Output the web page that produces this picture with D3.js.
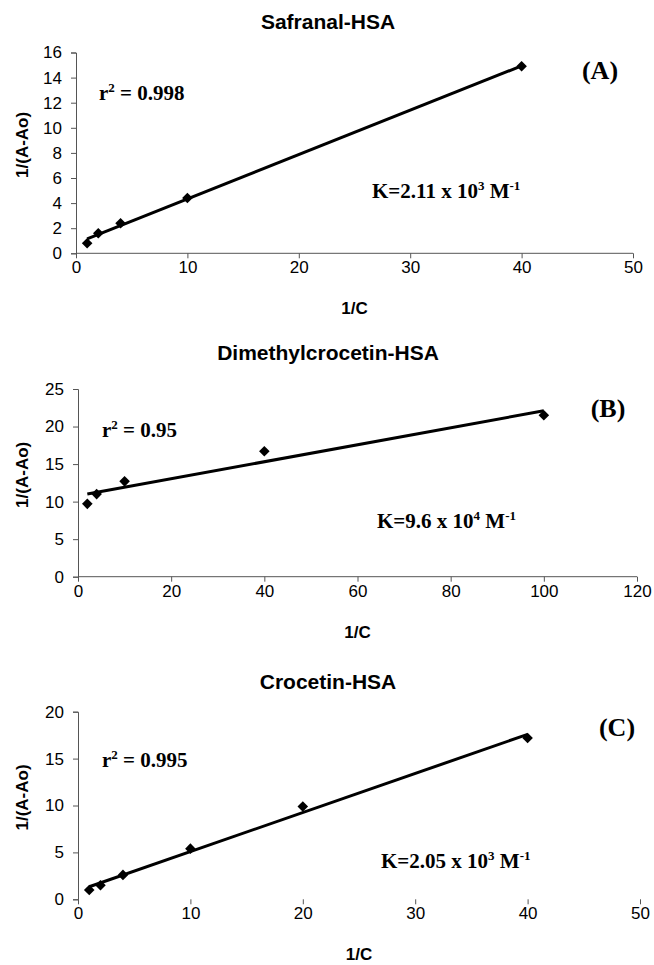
<!DOCTYPE html>
<html>
<head>
<meta charset="utf-8">
<script src="https://cdn.jsdelivr.net/npm/d3@7"></script>
<style>
  body { margin: 0; background: #fff; }
  svg { display: block; }
</style>
</head>
<body>
<svg id="chart" width="654" height="965"></svg>
<script>
// data
const safranalX = [1, 2, 4, 10, 40];
const safranalY = [0.8, 1.6, 2.4, 4.4, 14.9];
const dimethylX = [2, 4, 10, 40, 100];
const dimethylY = [9.7, 11.0, 12.7, 16.7, 21.5];
const crocetinX = [1, 2, 4, 10, 20, 40];
const crocetinY = [1.0, 1.5, 2.6, 5.4, 9.9, 17.2];

const titles = ['Safranal-HSA', 'Dimethylcrocetin-HSA', 'Crocetin-HSA'];
const panelLabels = ['(A)', '(B)', '(C)'];
const rSquared = ['0.998', '0.95', '0.995'];
const kValues = ['2.11', '9.6', '2.05'];
const kExponents = ['3', '4', '3'];
const xTickValues = [[0, 10, 20, 30, 40, 50], [0, 20, 40, 60, 80, 100, 120], [0, 10, 20, 30, 40, 50]];
const yTickValues = [[0, 2, 4, 6, 8, 10, 12, 14, 16], [0, 5, 10, 15, 20, 25], [0, 5, 10, 15, 20]];

const svg = d3.select('#chart');

// layout of each panel (pixel boxes)
const panels = [
  { xs: safranalX, ys: safranalY, left: 76, right: 633, top: 52.5, bottom: 253.3, titleY: 22,
    labelPos: [600, 70], rPos: [99, 100], kPos: [372, 198], xAxisLine: true },
  { xs: dimethylX, ys: dimethylY, left: 78, right: 637, top: 389, bottom: 576.7, titleY: 353,
    labelPos: [608, 408], rPos: [102, 437], kPos: [377, 528], xAxisLine: true },
  { xs: crocetinX, ys: crocetinY, left: 78, right: 640, top: 711.7, bottom: 899.3, titleY: 682,
    labelPos: [617, 727], rPos: [102, 767], kPos: [381, 868], xAxisLine: false }
];

const sans = 'Arial, "Liberation Sans", sans-serif';
const serif = '"Times New Roman", "Liberation Serif", serif';

panels.forEach((p, i) => {
  const xt = xTickValues[i];
  const yt = yTickValues[i];
  const x = d3.scaleLinear().domain([0, xt[xt.length - 1]]).range([p.left, p.right]);
  const y = d3.scaleLinear().domain([0, yt[yt.length - 1]]).range([p.bottom, p.top]);

  const g = svg.append('g');

  // title
  g.append('text')
    .attr('x', 328)
    .attr('y', p.titleY)
    .attr('dy', '0.35em')
    .attr('text-anchor', 'middle')
    .style('font-family', sans)
    .style('font-weight', 'bold')
    .style('font-size', '21px')
    .text(titles[i]);

  // axes
  const xAxis = g.append('g')
    .attr('transform', `translate(0,${p.bottom})`)
    .call(d3.axisBottom(x).tickValues(xt).tickSize(5).tickPadding(3).tickFormat(d3.format('d')));
  const yAxis = g.append('g')
    .attr('transform', `translate(${p.left},0)`)
    .call(d3.axisLeft(y).tickValues(yt).tickSize(5).tickPadding(9).tickFormat(d3.format('d')));

  [xAxis, yAxis].forEach(a => {
    a.selectAll('path, line').attr('stroke', '#555');
    a.selectAll('text')
      .attr('fill', '#000')
      .style('font-family', sans)
      .style('font-size', '17px');
  });
  xAxis.select('.domain').attr('d', `M${p.left},0H${p.right}`);
  if (!p.xAxisLine) xAxis.select('.domain').remove();

  // axis titles
  g.append('text')
    .attr('x', (p.left + p.right) / 2)
    .attr('y', p.bottom + 55)
    .attr('text-anchor', 'middle')
    .attr('dy', '0.35em')
    .style('font-family', sans)
    .style('font-weight', 'bold')
    .style('font-size', '17px')
    .text('1/C');

  g.append('text')
    .attr('transform', `translate(22,${(p.top + p.bottom) / 2 - 8}) rotate(-90)`)
    .attr('text-anchor', 'middle')
    .attr('dy', '0.35em')
    .style('font-family', sans)
    .style('font-weight', 'bold')
    .style('font-size', '17px')
    .text('1/(A-Ao)');

  // least squares trend line
  const mx = d3.mean(p.xs);
  const my = d3.mean(p.ys);
  const slope = d3.sum(p.xs, (d, k) => (d - mx) * (p.ys[k] - my)) / d3.sum(p.xs, d => (d - mx) * (d - mx));
  const icpt = my - slope * mx;
  const x0 = d3.min(p.xs);
  const x1 = d3.max(p.xs);

  g.append('line')
    .attr('x1', x(x0))
    .attr('y1', y(icpt + slope * x0))
    .attr('x2', x(x1))
    .attr('y2', y(icpt + slope * x1))
    .attr('stroke', '#000')
    .attr('stroke-width', 3);

  // diamonds
  g.append('g')
    .selectAll('path')
    .data(p.xs.map((d, k) => [d, p.ys[k]]))
    .enter()
    .append('path')
    .attr('d', d3.symbol(d3.symbolSquare, 56))
    .attr('transform', d => `translate(${x(d[0])},${y(d[1])}) rotate(45)`)
    .attr('fill', '#000');

  // annotations
  g.append('text')
    .attr('x', p.labelPos[0])
    .attr('y', p.labelPos[1])
    .attr('dy', '0.35em')
    .attr('text-anchor', 'middle')
    .style('font-family', serif)
    .style('font-weight', 'bold')
    .style('font-size', '26px')
    .text(panelLabels[i]);

  const r = g.append('text')
    .attr('x', p.rPos[0])
    .attr('y', p.rPos[1])
    .style('font-family', serif)
    .style('font-weight', 'bold')
    .style('font-size', '21px');
  r.append('tspan').text('r');
  r.append('tspan').attr('dy', -8).style('font-size', '13px').text('2');
  r.append('tspan').attr('dy', 8).text(' = ' + rSquared[i]);

  const k = g.append('text')
    .attr('x', p.kPos[0])
    .attr('y', p.kPos[1])
    .style('font-family', serif)
    .style('font-weight', 'bold')
    .style('font-size', '21px');
  k.append('tspan').text('K=' + kValues[i] + ' x 10');
  k.append('tspan').attr('dy', -8).style('font-size', '13px').text(kExponents[i]);
  k.append('tspan').attr('dy', 8).text(' M');
  k.append('tspan').attr('dy', -8).style('font-size', '13px').text('-1');
});
</script>
</body>
</html>
